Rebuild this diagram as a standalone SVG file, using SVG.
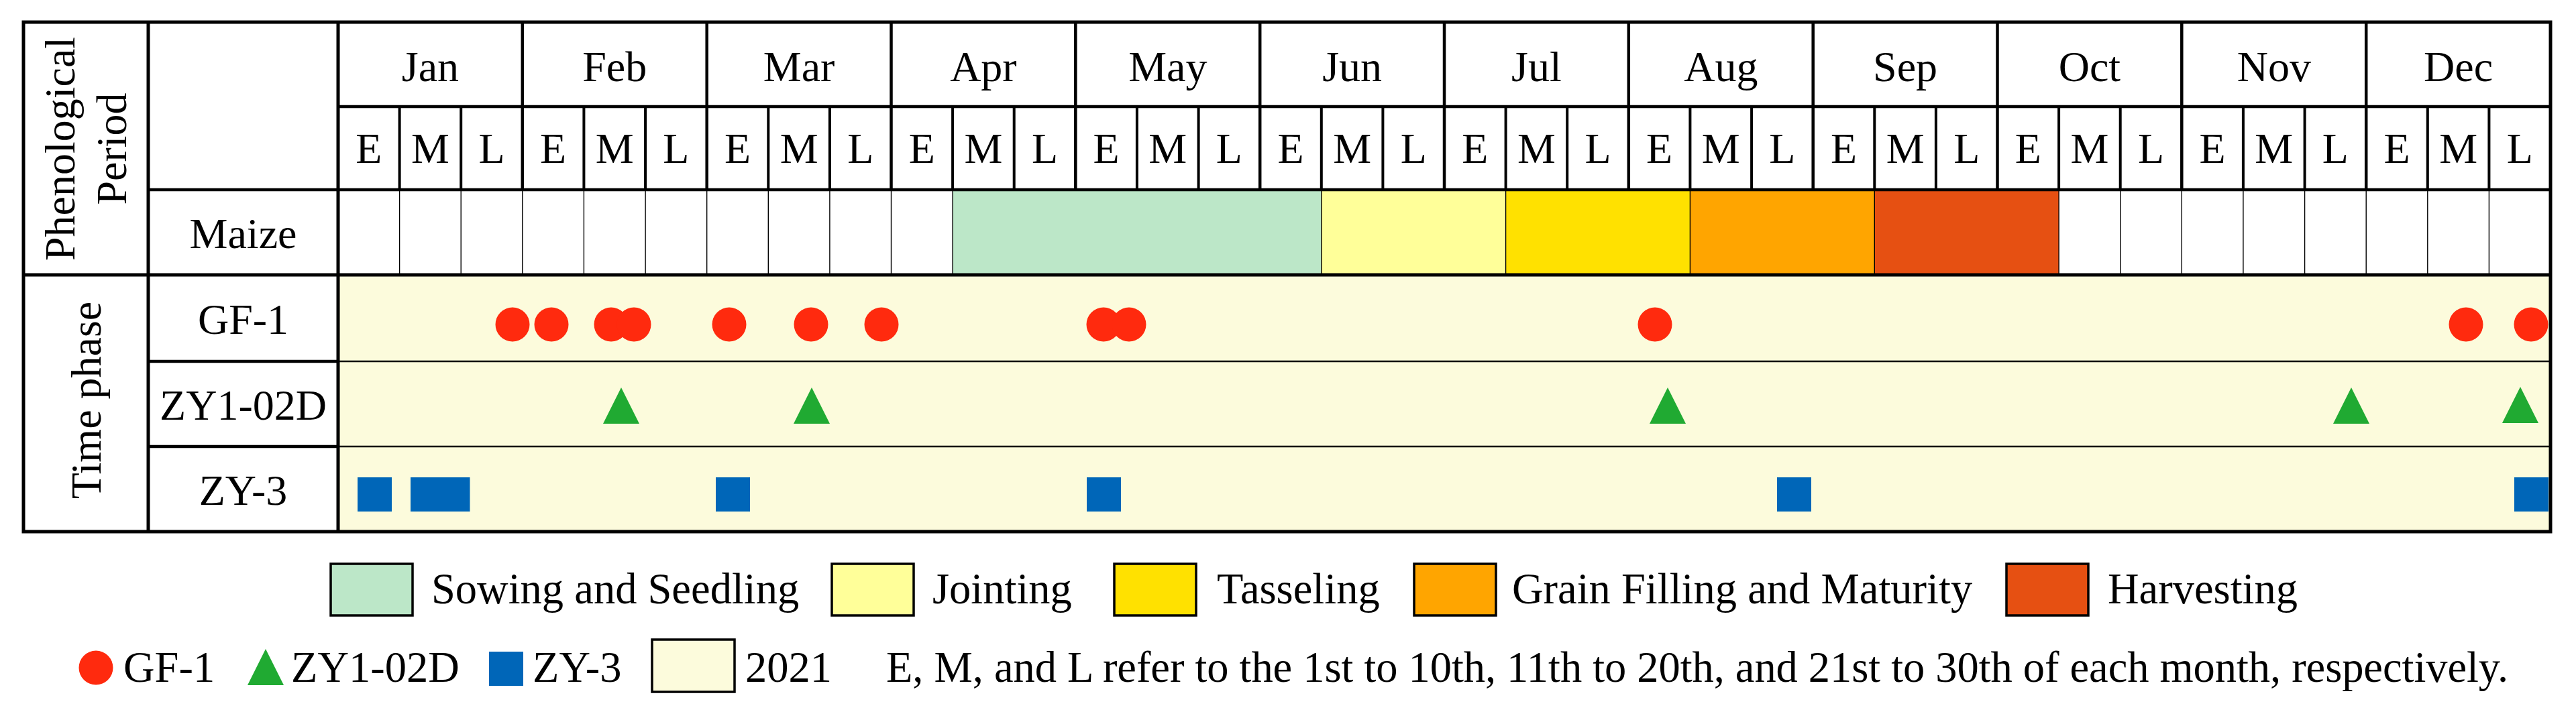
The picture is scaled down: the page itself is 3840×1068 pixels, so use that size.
<svg xmlns="http://www.w3.org/2000/svg" width="3840" height="1068" viewBox="0 0 3840 1068">
<defs>
<style>
.t{font-family:"Liberation Serif","Times New Roman",serif;font-size:64px;fill:#000;text-anchor:middle}
.ls{font-family:"Liberation Serif","Times New Roman",serif;font-size:64.5px;fill:#000;text-anchor:start}
.thick{stroke:#000;stroke-width:5;fill:none}
.mid{stroke:#000;stroke-width:4.5;fill:none}
.dec{stroke:#000;stroke-width:4;fill:none}
.thin{stroke:#000;stroke-width:1.4;fill:none}
.sep{stroke:#000;stroke-width:2.7;fill:none}
.gf{fill:#FF2A0E}
.zy1{fill:#20AA32}
.zy3{fill:#0066B8}
.box{stroke:#000;stroke-width:3.5}
</style>
<circle id="mc" r="25.5" class="gf"/>
<polygon id="mt" points="0,-27 27,27 -27,27" class="zy1"/>
<rect id="ms" x="-25.5" y="-25.5" width="51" height="51" class="zy3"/>
</defs>
<rect width="3840" height="1068" fill="#fff"/>

<g id="backgrounds">
<rect x="504" y="410" width="3298" height="383" fill="#FCFBDC"/>
<rect x="1420.1" y="283" width="549.7" height="127" fill="#BCE7C8"/>
<rect x="1969.8" y="283" width="274.8" height="127" fill="#FFFF99"/>
<rect x="2244.6" y="283" width="274.8" height="127" fill="#FFE100"/>
<rect x="2519.4" y="283" width="274.9" height="127" fill="#FFA500"/>
<rect x="2794.3" y="283" width="274.8" height="127" fill="#E65012"/>
</g>

<g id="row-gf1-markers">
<use href="#mc" x="764" y="484"/>
<use href="#mc" x="822" y="484"/>
<use href="#mc" x="911" y="484"/>
<use href="#mc" x="945" y="484"/>
<use href="#mc" x="1087" y="484"/>
<use href="#mc" x="1209" y="484"/>
<use href="#mc" x="1314" y="484"/>
<use href="#mc" x="1645" y="484"/>
<use href="#mc" x="1683" y="484"/>
<use href="#mc" x="2467" y="484"/>
<use href="#mc" x="3676" y="484"/>
<use href="#mc" x="3773" y="484"/>
</g>
<g id="row-zy102d-markers">
<use href="#mt" x="926" y="605"/>
<use href="#mt" x="1210" y="605"/>
<use href="#mt" x="2486" y="605"/>
<use href="#mt" x="3505" y="605"/>
<use href="#mt" x="3757" y="604"/>
</g>
<g id="row-zy3-markers">
<use href="#ms" x="558.5" y="737.5"/>
<use href="#ms" x="637.5" y="737.5"/>
<use href="#ms" x="675" y="737.5"/>
<use href="#ms" x="1092.5" y="737.5"/>
<use href="#ms" x="1645.5" y="737.5"/>
<use href="#ms" x="2674.5" y="737.5"/>
<use href="#ms" x="3773.5" y="737.5"/>
</g>

<g id="grid">
<path class="thin" d="M595.6 283V410M687.2 283V410M778.8 283V410M870.4 283V410M962.1 283V410M1053.7 283V410M1145.3 283V410M1236.9 283V410M1328.5 283V410M1420.1 283V410M1969.8 283V410M2244.6 283V410M2519.4 283V410M2794.3 283V410M3069.1 283V410M3160.7 283V410M3252.3 283V410M3343.9 283V410M3435.6 283V410M3527.2 283V410M3618.8 283V410M3710.4 283V410"/>
<path class="dec" d="M595.6 159V283M687.2 159V283M870.4 159V283M962.1 159V283M1145.3 159V283M1236.9 159V283M1420.1 159V283M1511.7 159V283M1694.9 159V283M1786.6 159V283M1969.8 159V283M2061.4 159V283M2244.6 159V283M2336.2 159V283M2519.4 159V283M2611.1 159V283M2794.3 159V283M2885.9 159V283M3069.1 159V283M3160.7 159V283M3343.9 159V283M3435.6 159V283M3618.8 159V283M3710.4 159V283"/>
<path class="mid" d="M778.8 33V283M1053.7 33V283M1328.5 33V283M1603.3 33V283M1878.2 33V283M2153 33V283M2427.8 33V283M2702.7 33V283M2977.5 33V283M3252.3 33V283M3527.2 33V283"/>
<path class="mid" d="M504 159H3802M221 283H3802"/>
<path class="thick" d="M35 410H3802"/>
<path class="mid" d="M221 539H504M221 666H504"/>
<path class="sep" d="M504 539H3802M504 666H3802"/>
<path class="thick" d="M221 33V793M504 33V793"/>
<rect class="thick" x="35" y="33" width="3767" height="760"/>
</g>

<g id="header-labels">
<text class="t" transform="translate(111,222) rotate(-90)">Phenological</text>
<text class="t" transform="translate(188,222) rotate(-90)">Period</text>
<text class="t" transform="translate(150,597) rotate(-90)">Time phase</text>
<text class="t" x="362.5" y="370">Maize</text>
<text class="t" x="362.5" y="498">GF-1</text>
<text class="t" x="362.5" y="626">ZY1-02D</text>
<text class="t" x="362.5" y="753">ZY-3</text>
</g>

<g id="months">
<text class="t" x="641.4" y="121">Jan</text>
<text class="t" x="916.2" y="121">Feb</text>
<text class="t" x="1191.1" y="121">Mar</text>
<text class="t" x="1465.9" y="121">Apr</text>
<text class="t" x="1740.8" y="121">May</text>
<text class="t" x="2015.6" y="121">Jun</text>
<text class="t" x="2290.4" y="121">Jul</text>
<text class="t" x="2565.3" y="121">Aug</text>
<text class="t" x="2840.1" y="121">Sep</text>
<text class="t" x="3114.9" y="121">Oct</text>
<text class="t" x="3389.8" y="121">Nov</text>
<text class="t" x="3664.6" y="121">Dec</text>
</g>

<g id="decades">
<text class="t" x="549.8" y="243">E</text><text class="t" x="641.4" y="243">M</text><text class="t" x="733" y="243">L</text>
<text class="t" x="824.6" y="243">E</text><text class="t" x="916.2" y="243">M</text><text class="t" x="1007.9" y="243">L</text>
<text class="t" x="1099.5" y="243">E</text><text class="t" x="1191.1" y="243">M</text><text class="t" x="1282.7" y="243">L</text>
<text class="t" x="1374.3" y="243">E</text><text class="t" x="1465.9" y="243">M</text><text class="t" x="1557.5" y="243">L</text>
<text class="t" x="1649.1" y="243">E</text><text class="t" x="1740.8" y="243">M</text><text class="t" x="1832.4" y="243">L</text>
<text class="t" x="1924" y="243">E</text><text class="t" x="2015.6" y="243">M</text><text class="t" x="2107.2" y="243">L</text>
<text class="t" x="2198.8" y="243">E</text><text class="t" x="2290.4" y="243">M</text><text class="t" x="2382" y="243">L</text>
<text class="t" x="2473.6" y="243">E</text><text class="t" x="2565.3" y="243">M</text><text class="t" x="2656.9" y="243">L</text>
<text class="t" x="2748.5" y="243">E</text><text class="t" x="2840.1" y="243">M</text><text class="t" x="2931.7" y="243">L</text>
<text class="t" x="3023.3" y="243">E</text><text class="t" x="3114.9" y="243">M</text><text class="t" x="3206.5" y="243">L</text>
<text class="t" x="3298.1" y="243">E</text><text class="t" x="3389.8" y="243">M</text><text class="t" x="3481.4" y="243">L</text>
<text class="t" x="3573" y="243">E</text><text class="t" x="3664.6" y="243">M</text><text class="t" x="3756.2" y="243">L</text>
</g>

<g id="legend-stages">
<g id="leg-sowing"><rect class="box" x="493" y="841" width="122" height="77" fill="#BCE7C8"/><text class="ls" x="643" y="900">Sowing and Seedling</text></g>
<g id="leg-jointing"><rect class="box" x="1240" y="841" width="122" height="77" fill="#FFFF99"/><text class="ls" x="1390" y="900">Jointing</text></g>
<g id="leg-tasseling"><rect class="box" x="1661" y="841" width="122" height="77" fill="#FFE100"/><text class="ls" x="1814" y="900">Tasseling</text></g>
<g id="leg-grain"><rect class="box" x="2108" y="841" width="122" height="77" fill="#FFA500"/><text class="ls" x="2254" y="900">Grain Filling and Maturity</text></g>
<g id="leg-harvest"><rect class="box" x="2991" y="841" width="122" height="77" fill="#E65012"/><text class="ls" x="3142" y="900">Harvesting</text></g>
</g>

<g id="legend-sensors">
<g id="leg-gf1"><use href="#mc" x="143" y="996"/><text class="ls" x="184" y="1017">GF-1</text></g>
<g id="leg-zy102d"><use href="#mt" x="396" y="995"/><text class="ls" x="434" y="1017">ZY1-02D</text></g>
<g id="leg-zy3"><use href="#ms" x="754.5" y="997.5"/><text class="ls" x="794" y="1017">ZY-3</text></g>
<g id="leg-2021"><rect class="box" x="972" y="954" width="123" height="78" fill="#FCFBDC"/><text class="ls" x="1111" y="1017">2021</text></g>
<g id="leg-note"><text class="ls" x="1321" y="1017" textLength="2418" lengthAdjust="spacing">E, M, and L refer to the 1st to 10th, 11th to 20th, and 21st to 30th of each month, respectively.</text></g>
</g>
</svg>
